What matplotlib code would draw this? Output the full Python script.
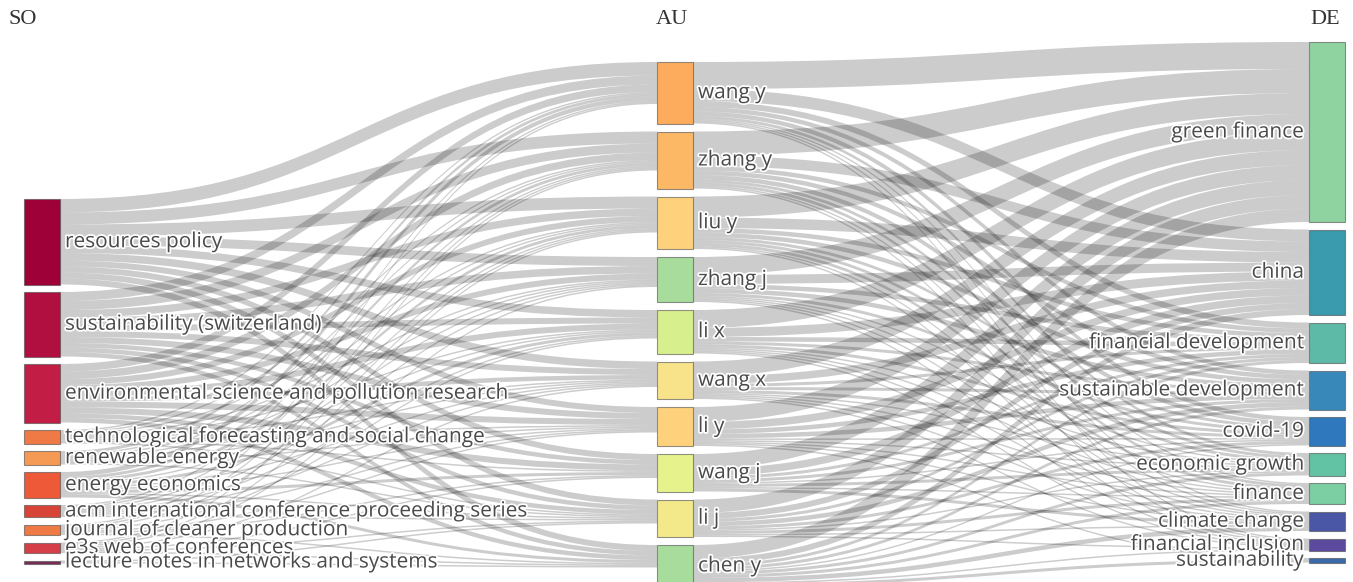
import numpy as np
import matplotlib.pyplot as plt
from matplotlib.path import Path
from matplotlib.patches import PathPatch, Rectangle
import matplotlib.patheffects as pe

# three-field plot: sources (SO) -> authors (AU) -> keywords (DE)
so_labels = ["resources policy", "sustainability (switzerland)",
             "environmental science and pollution research",
             "technological forecasting and social change", "renewable energy",
             "energy economics", "acm international conference proceeding series",
             "journal of cleaner production", "e3s web of conferences",
             "lecture notes in networks and systems"]
au_labels = ["wang y", "zhang y", "liu y", "zhang j", "li x", "wang x",
             "li y", "wang j", "li j", "chen y"]
de_labels = ["green finance", "china", "financial development",
             "sustainable development", "covid-19", "economic growth", "finance",
             "climate change", "financial inclusion", "sustainability"]

# link weights, rows = source node, cols = target node
so_au = np.array([
    [9, 8, 8, 6, 5, 5, 4, 4, 4, 4],
    [6, 6, 5, 5, 4, 4, 4, 3, 3, 3],
    [5, 5, 4, 4, 4, 3, 4, 4, 3, 3],
    [1, 1, 1, 1, 1, 1, 1, 1, 1, 0],
    [2, 1, 1, 1, 1, 1, 1, 0, 1, 0],
    [3, 2, 2, 1, 2, 1, 1, 2, 1, 2],
    [1, 1, 1, 1, 1, 1, 1, 0, 1, 0],
    [1, 1, 1, 0, 1, 0, 1, 1, 0, 1],
    [0, 1, 1, 1, 0, 1, 0, 1, 1, 1],
    [0, 0, 0, 0, 0, 0, 0, 0, 1, 1],
])
au_de = np.array([
    [18, 8, 4, 3, 3, 2, 1, 1, 1, 0],
    [16, 7, 3, 3, 3, 2, 2, 1, 1, 0],
    [14, 7, 3, 3, 2, 2, 2, 1, 1, 0],
    [12, 6, 3, 3, 2, 1, 1, 1, 1, 0],
    [12, 6, 3, 2, 2, 1, 1, 1, 1, 0],
    [10, 5, 2, 2, 2, 1, 1, 1, 1, 0],
    [10, 5, 3, 3, 1, 1, 1, 1, 0, 1],
    [10, 5, 2, 2, 1, 2, 1, 2, 0, 0],
    [9, 4, 2, 3, 2, 1, 2, 1, 1, 0],
    [9, 4, 2, 2, 1, 2, 2, 3, 1, 2],
])

so_colors = ["#9e0038", "#b10f40", "#c21d44", "#f07a45", "#f59a55", "#ee5a38",
             "#d94438", "#f07a45", "#d63e48", "#7a2a55"]
au_colors = ["#fdab5c", "#fdb865", "#fed27d", "#a8dc9c", "#d8ef8e", "#f8e28a",
             "#fed27d", "#e6f38c", "#f3e98a", "#a8dc9c"]
de_colors = ["#8fd3a0", "#3a9aae", "#5dbaa6", "#3889ba", "#2f78bd", "#62c2a4",
             "#7ccfa2", "#4a56a6", "#5b4a9e", "#3a6aa8"]

W, H = 1353, 582
fig = plt.figure(figsize=(W / 100, H / 100), dpi=100)
ax = fig.add_axes([0, 0, 1, 1])
ax.set_xlim(0, W)
ax.set_ylim(H, 0)
ax.axis('off')

px = 1.5          # pixels per unit of weight
node_w = 36
col_x = [24, 657, 1309]
col_top = [199, 62, 42]
col_gap = [7.5, 8, 7.5]

so_size = so_au.sum(1) * px
au_size = np.maximum(so_au.sum(0), au_de.sum(1)) * px
de_size = au_de.sum(0) * px


def stack(sizes, top, gap):
    return top + np.concatenate([[0], np.cumsum(sizes[:-1] + gap)])


so_y = stack(so_size, col_top[0], col_gap[0])
au_y = stack(au_size, col_top[1], col_gap[1])
de_y = stack(de_size, col_top[2], col_gap[2])


def draw_links(M, x0, ys0, x1, ys1):
    src = {}
    for i in range(M.shape[0]):
        off = ys0[i]
        for j in range(M.shape[1]):
            if M[i, j]:
                src[(i, j)] = off
                off += M[i, j] * px
    tgt = {}
    for j in range(M.shape[1]):
        off = ys1[j]
        for i in range(M.shape[0]):
            if M[i, j]:
                tgt[(i, j)] = off
                off += M[i, j] * px
    xm = (x0 + x1) / 2
    for (i, j), a in src.items():
        b = tgt[(i, j)]
        h = M[i, j] * px
        verts = [(x0, a), (xm, a), (xm, b), (x1, b),
                 (x1, b + h), (xm, b + h), (xm, a + h), (x0, a + h), (x0, a)]
        codes = [Path.MOVETO, Path.CURVE4, Path.CURVE4, Path.CURVE4,
                 Path.LINETO, Path.CURVE4, Path.CURVE4, Path.CURVE4, Path.CLOSEPOLY]
        ax.add_patch(PathPatch(Path(verts, codes), facecolor=(0, 0, 0, 0.2),
                               edgecolor='none', zorder=1))


draw_links(so_au, col_x[0] + node_w, so_y, col_x[1], au_y)
draw_links(au_de, col_x[1] + node_w, au_y, col_x[2], de_y)

halo = [pe.withStroke(linewidth=2.5, foreground='white')]
txt = dict(fontsize=15, color='#4a4a4a', family='Open Sans', va='center',
           path_effects=halo, zorder=4)


def draw_nodes(x, ys, sizes, colors, labels, side):
    for y, s, c, lab in zip(ys, sizes, colors, labels):
        ax.add_patch(Rectangle((x, y), node_w, s, facecolor=c,
                               edgecolor=(0.3, 0.3, 0.3, 0.6), lw=0.8, zorder=3))
        if side == 'right':
            ax.text(x + node_w + 5, y + s / 2, lab, ha='left', **txt)
        else:
            ax.text(x - 5, y + s / 2, lab, ha='right', **txt)


draw_nodes(col_x[0], so_y, so_size, so_colors, so_labels, 'right')
draw_nodes(col_x[1], au_y, au_size, au_colors, au_labels, 'right')
draw_nodes(col_x[2], de_y, de_size, de_colors, de_labels, 'left')

head = dict(fontsize=16, color='#333333', family='Liberation Serif', va='center', ha='left')
ax.text(8, 19, "SO", **head)
ax.text(656, 19, "AU", **head)
ax.text(1310, 19, "DE", **head)

fig.savefig("out.png", dpi=100)
